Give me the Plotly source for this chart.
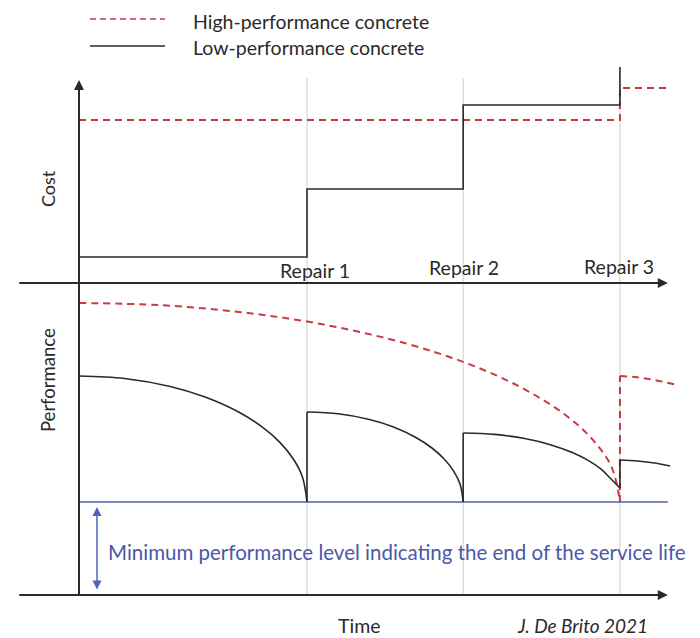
import plotly.graph_objects as go

# ---------------- data ----------------
repair_times = [4.0, 6.74, 9.49]
repair_labels = ["Repair 1", "Repair 2", "Repair 3"]
time_end = 10.33

# Cost (step levels, drawn with hv steps)
lp_cost_t = [0.0, 4.0, 6.74, 9.49]
lp_cost = [2.6, 9.4, 17.8, 21.6]
hp_cost_t = [0.0, 9.49, 10.33]
hp_cost = [16.3, 19.5, 19.5]

# Performance
min_perf = 9.3
hp_perf_t1 = [0, 1.424, 2.847, 4.271, 5.694, 6.833, 7.782, 8.541, 9.016, 9.348, 9.49]
hp_perf_1 = [29.2, 28.98, 28.28, 27.07, 25.22, 23.11, 20.68, 17.98, 15.51, 12.74, 9.3]
hp_perf_t2 = [9.49, 9.75, 10.05, 10.5]
hp_perf_2 = [21.9, 21.8, 21.55, 21.0]

lp_perf_t1 = [0, 0.8, 1.6, 2.2, 2.8, 3.2, 3.52, 3.76, 3.92, 4.0]
lp_perf_1 = [21.9, 21.65, 20.85, 19.82, 18.3, 16.86, 15.29, 13.6, 11.81, 9.3]
lp_perf_t2 = [4.0, 4.548, 5.096, 5.507, 5.918, 6.192, 6.411, 6.576, 6.685, 6.74]
lp_perf_2 = [18.3, 18.12, 17.55, 16.82, 15.73, 14.7, 13.58, 12.37, 11.09, 9.3]
lp_perf_t3 = [6.74, 7.29, 7.84, 8.253, 8.665, 8.94, 9.16, 9.325, 9.49]
lp_perf_3 = [16.2, 16.06, 15.62, 15.06, 14.23, 13.44, 12.58, 11.65, 10.7]
lp_perf_t4 = [9.49, 9.8, 10.1, 10.37]
lp_perf_4 = [13.5, 13.4, 13.2, 12.9]

# ---------------- styles ----------------
OFF = 8                      # page body margin of the browser
W, H = 700 - OFF, 638 - OFF  # figure size so that it fills the window
RED = "#c83a44"
BLACK = "#2a2a2a"
BLUE = "#5161b5"
BLUE_TXT = "#4a58a8"
GRAY = "#cfcfcf"
FONT = "Lato"
DASH = "7px,5px"


def px(x):
    return (x - OFF) / W


def py(y):
    return 1 - (y - OFF) / H


fig = go.Figure()

# Cost panel
fig.add_trace(go.Scatter(x=hp_cost_t, y=hp_cost, mode="lines", line_shape="hv",
                         line=dict(color=RED, width=2, dash=DASH),
                         name="High-performance concrete", showlegend=False,
                         xaxis="x", yaxis="y"))
fig.add_trace(go.Scatter(x=lp_cost_t, y=lp_cost, mode="lines", line_shape="hv",
                         line=dict(color=BLACK, width=1.6),
                         name="Low-performance concrete", showlegend=False,
                         xaxis="x", yaxis="y"))

# Performance panel
fig.add_trace(go.Scatter(x=[0, time_end], y=[min_perf, min_perf], mode="lines",
                         line=dict(color=BLUE, width=1.5), showlegend=False,
                         xaxis="x", yaxis="y2"))


def seg_join(segs):
    xs, ys = [], []
    for sx, sy in segs:
        xs += list(sx) + [None]
        ys += list(sy) + [None]
    return xs, ys


lp_segs = [(lp_perf_t1, lp_perf_1), (lp_perf_t2, lp_perf_2),
           (lp_perf_t3, lp_perf_3), (lp_perf_t4, lp_perf_4)]
lp_jumps = []
for i in range(3):
    a = lp_segs[i]
    b = lp_segs[i + 1]
    lp_jumps.append(([a[0][-1], b[0][0]], [a[1][-1], b[1][0]]))
hp_segs = [(hp_perf_t1, hp_perf_1), (hp_perf_t2, hp_perf_2)]
hp_jumps = [([hp_perf_t1[-1], hp_perf_t2[0]], [hp_perf_1[-1], hp_perf_2[0]])]

xs, ys = seg_join(hp_segs)
fig.add_trace(go.Scatter(x=xs, y=ys, mode="lines", line_shape="spline",
                         line=dict(color=RED, width=2, dash=DASH), connectgaps=False,
                         showlegend=False, xaxis="x", yaxis="y2"))
xs, ys = seg_join(hp_jumps)
fig.add_trace(go.Scatter(x=xs, y=ys, mode="lines",
                         line=dict(color=RED, width=2, dash=DASH), connectgaps=False,
                         showlegend=False, xaxis="x", yaxis="y2"))
xs, ys = seg_join(lp_segs)
fig.add_trace(go.Scatter(x=xs, y=ys, mode="lines", line_shape="spline",
                         line=dict(color=BLACK, width=1.6), connectgaps=False,
                         showlegend=False, xaxis="x", yaxis="y2"))
xs, ys = seg_join(lp_jumps)
fig.add_trace(go.Scatter(x=xs, y=ys, mode="lines",
                         line=dict(color=BLACK, width=1.6), connectgaps=False,
                         showlegend=False, xaxis="x", yaxis="y2"))

shapes = []
for r in repair_times:
    shapes.append(dict(type="line", xref="x", yref="paper", x0=r, x1=r,
                       y0=py(595), y1=py(78), line=dict(color=GRAY, width=1),
                       layer="below"))
shapes.append(dict(type="line", xref="paper", yref="paper", x0=px(90), x1=px(165),
                   y0=py(19), y1=py(19), line=dict(color=RED, width=1.6, dash="6px,4px")))
shapes.append(dict(type="line", xref="paper", yref="paper", x0=px(90), x1=px(165),
                   y0=py(46), y1=py(46), line=dict(color=BLACK, width=1.4)))

ann = []
ann.append(dict(x=0, y=20.3, xref="x", yref="y", ax=0, ay=517, showarrow=True,
                arrowhead=2, arrowsize=1, arrowwidth=2, arrowcolor=BLACK, text="",
                standoff=0))
for yr in ["y", "y2"]:
    ann.append(dict(x=time_end, y=0, xref="x", yref=yr, ax=-650, ay=0, showarrow=True,
                    arrowhead=2, arrowsize=1, arrowwidth=2, arrowcolor=BLACK, text="",
                    standoff=0))
ann.append(dict(x=0.316, y=8.8, xref="x", yref="y2", ax=0, ay=84, showarrow=True,
                arrowhead=2, startarrowhead=2, arrowside="end+start", arrowsize=1.2,
                startarrowsize=1.2, arrowwidth=1.5, arrowcolor=BLUE, text="", standoff=0,
                startstandoff=0))


def label(x, y, text, size, color=BLACK, angle=0, xanchor="center", xref="paper", yref="paper"):
    ann.append(dict(x=x, y=y, xref=xref, yref=yref, text=text, showarrow=False,
                    xanchor=xanchor, yanchor="middle", textangle=angle,
                    font=dict(family=FONT, size=size, color=color)))


label_dx = [0.14, 0.01, -0.02]
label_y = [1.3, 1.6, 1.7]
for r, lab, dx, yy in zip(repair_times, repair_labels, label_dx, label_y):
    label(r + dx, yy, lab, 19.5, xref="x", yref="y")

label(px(48), py(189), "Cost", 18, angle=-90)
label(px(48), py(380), "Performance", 18.5, angle=-90)
label(px(359), py(625), "Time", 19.5)
label(px(582), py(625), "<i>J. De Brito 2021</i>", 19)
label(px(191), py(21), "High-performance concrete", 19.5, xanchor="left")
label(px(191), py(47), "Low-performance concrete", 19.5, xanchor="left")
label(px(106), py(552), "Minimum performance level indicating the end of the service life",
      20.5, color=BLUE_TXT, xanchor="left")

fig.update_layout(
    width=W, height=H,
    margin=dict(l=0, r=0, t=0, b=0),
    paper_bgcolor="white", plot_bgcolor="white",
    xaxis=dict(range=[(OFF - 79) / 57, (700 - 79) / 57], visible=False, domain=[0, 1]),
    yaxis=dict(range=[0, (283 - OFF) / 10], visible=False, domain=[1 - (283 - OFF) / H, 1]),
    yaxis2=dict(range=[-4.3, 31.2], visible=False, domain=[0, 1 - (283 - OFF) / H]),
    shapes=shapes, annotations=ann, showlegend=False,
)

fig.write_html("out.html")
